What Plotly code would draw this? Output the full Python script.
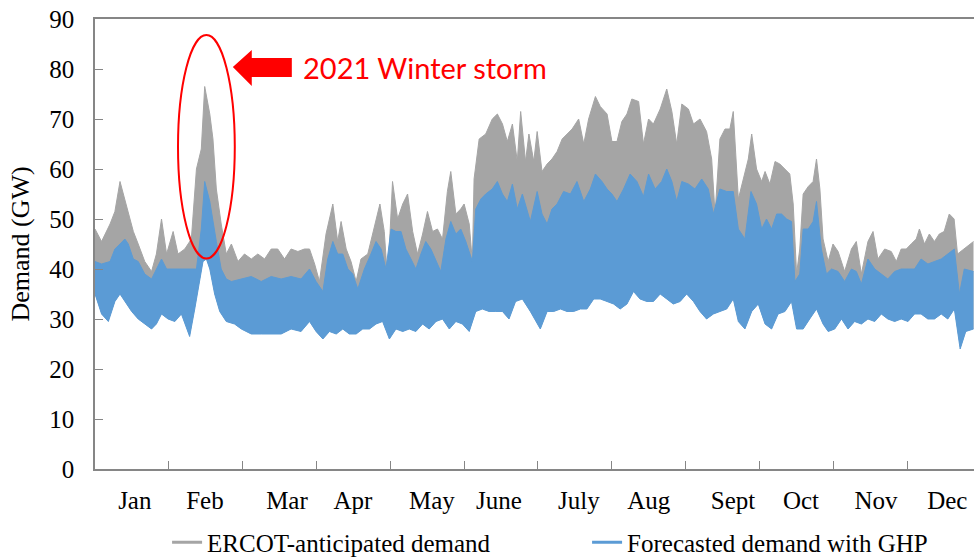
import plotly.graph_objects as go

# ---------------- data ----------------
# x values are day-of-year; y values are GW
ercot_peak_day = [0, 2.7, 6.2, 8.2, 10.3, 12.3, 13.7, 15.8, 17.8, 20.5, 23.3, 25.3, 27.4, 29.5, 32.2, 34.2,
                  37, 39.7, 41.8, 43.8, 45.2, 47.3, 48.6, 50, 52, 54.1, 56.2, 58.9, 61.6, 64.4, 67.1, 69.9,
                  72.6, 75.3, 78.1, 80.8, 83.6, 86.3,
                  88.4, 90.5, 92.5, 95.2, 98, 100, 101.4, 103.5, 105.5, 107.6, 109.6, 112.4, 114.4, 115.8,
                  117.4, 119.2, 120.6, 122.6, 124.7, 126.8, 128.8, 130.9, 132.9, 135, 137, 139.1, 141.1,
                  143.2, 145.2, 146.6, 148.7, 150.7, 152.1, 154.2, 155.5, 156.2, 158.3, 161, 163.7, 165.8,
                  167.9, 169.9, 172, 174, 175.4, 177.4,
                  178.8, 180.8, 182.2, 184.2, 186.3, 188.3, 190.4, 192.5, 194.5, 196.6, 199.3, 201.4, 203.4,
                  206.2, 208.2, 211, 213, 215.1, 217.1, 219.2, 221.2, 224, 226, 228.1, 230.1, 232.9, 235.6,
                  237.7, 239.7, 241.8, 244.5, 246.6, 249.3, 252, 254.1, 255.5, 257.5, 259.6, 261.6, 263,
                  265.1, 267.2, 269.2, 270.6, 272.6, 274.7, 276.1, 278.1, 280.2, 282.2, 284.3, 286.3, 287.7,
                  289.1, 290.4, 291.8, 293.9, 295.9, 297.3, 298.7, 300, 302.1, 304.1, 306.2, 308.9, 311.7,
                  313.7, 315.8, 318.5, 320.6, 322.6, 325.4, 328.1, 330.2, 332.2, 334.3, 336.3, 338.4, 339.7,
                  341.8, 343.8, 345.9, 347.9, 349.9, 352, 354, 355.4, 358.2, 362]
ercot_peak_gw = [48, 45.5, 49, 51.5, 57.5, 54, 51, 47.5, 45, 41.5, 39.5, 43, 50, 43, 47.5, 43,
                 44, 46, 60, 64, 76.5, 71, 66, 56, 49, 43, 45, 41.5, 43, 42, 43, 42,
                 44, 44, 42, 44, 43.5, 44,
                 44, 41, 37.5, 47, 53, 45.5, 49.5, 44, 41.5, 37.5, 42, 43, 47, 50,
                 53, 47.5, 37.5, 57.5, 50, 53, 55, 47.5, 43, 47, 51.5, 47.5, 48,
                 46, 55.5, 59.5, 51, 52, 53, 49, 41.5, 58, 66, 67, 70, 71,
                 69, 65.5, 69, 61.5, 71.5, 61.5,
                 67, 61.5, 67.5, 59.5, 61, 62, 63.5, 66, 67, 68, 70, 65, 70,
                 74.5, 72.5, 71, 65.5, 65.5, 69.5, 71, 74, 73.5, 65, 70, 69, 72, 76,
                 71.5, 65, 73, 72, 69, 70, 67.5, 62, 51, 66, 68, 68, 71.5,
                 54, 58, 62, 67, 60, 57.5, 59.5, 57, 61.5, 61, 60, 59, 53,
                 39, 44, 55, 56.5, 57.5, 62, 56, 46, 41.5, 45, 43.5, 39.5, 44,
                 45.5, 39, 45.5, 47.5, 42, 44, 43.5, 41.5, 44, 44, 45, 46, 48,
                 45, 47, 45.5, 47, 47.5, 51, 50, 43, 44, 45.5]

ghp_peak_day = [0, 2.7, 6.2, 8.2, 10.3, 12.3, 13.7, 15.8, 17.8, 20.5, 23.3, 25.3, 27.4, 29.5, 32.2, 34.2,
                37, 39.7, 41.8, 43.8, 45.2, 47.3, 48.6, 50, 52, 54.1, 56.2, 60.3, 64.4, 68.5, 72.6, 76.7,
                80.8, 84.9,
                88.4, 91.1, 93.9, 95.9, 98, 100, 102.1, 104.2, 106.2, 108.3, 111, 113.7, 115.8, 117.9,
                119.9, 122, 124, 126.1, 128.1, 130.2, 132.2, 134.3, 136.3, 138.4, 140.5, 142.5, 144.6,
                146.6, 148.7, 150.7, 152.8, 155.5, 156.9, 159, 161, 163.7, 165.8, 167.9, 169.9, 172, 174,
                176.1,
                179.4, 182.2, 184.2, 186.3, 188.3, 190.4, 193.1, 195.9, 198.6, 201.4, 204.1, 206.2, 208.9,
                211, 213, 215.1, 217.8, 220.5, 223.3, 226, 228.1, 230.8, 233.5, 235.6, 237.7, 239.7, 241.8,
                244.5, 247.2, 250, 252.7, 254.8, 257.5, 260.3, 263,
                265.1, 267.8, 270.3, 272.6, 274.7, 276.7, 278.8, 280.9, 282.9, 285, 287, 288.4, 290.4,
                291.8, 293.9, 295.9, 297.3, 299.3, 301.4, 303.5, 306.2, 308.9, 311.7, 313.7, 315.8, 318.5,
                321.3, 324, 326.7, 329.5, 332.2, 335, 337.7, 340.4, 343.2, 345.9, 348.7, 351.4, 354.1,
                356.2, 358.2, 362]
ghp_peak_gw = [41.5, 41, 41.5, 44, 45, 46, 45, 42, 41.5, 39, 38, 40, 42, 40, 40, 40,
               40, 40, 40, 48, 57.5, 53.5, 49.5, 45.5, 40, 38, 37.5, 38, 38.5, 37.5, 38.5, 38,
               38.5, 38,
               40, 37.5, 35.5, 42, 45.5, 43, 43, 40, 39, 36, 40, 43, 45.5, 44,
               40, 48, 47.5, 47.5, 44, 42, 40, 43, 45.5, 44, 41.5, 39.5, 46,
               49.5, 47, 48, 45.5, 41.5, 52, 54, 55, 56, 57.5, 55, 53.5, 57, 52,
               55,
               49.5, 55.5, 51, 49, 52, 53, 55.5, 55, 57.5, 53.5, 56, 59, 57.5,
               56, 55, 53.5, 56, 59, 57.5, 54.5, 59, 56, 57.5, 60, 57.5, 53.5, 57.5,
               57, 56, 58, 56, 51, 56, 55.5, 55.5,
               48, 46, 55.5, 53, 48, 50, 48, 51, 51, 50, 49.5, 37.5, 39,
               48, 48, 49.5, 53.5, 44, 39, 40, 39.5, 37.5, 40, 39.5, 37, 42,
               40, 39, 38, 39.5, 40, 40, 40, 42, 41, 41.5, 42, 43, 44,
               35, 40, 39.5]

ghp_low_day = [0, 2.7, 5.5, 8.2, 10.3, 12.3, 15.1, 17.8, 20.5, 23.3, 25.3, 27.4, 30.1, 32.9, 35.6, 39,
               41.1, 43.2, 44.5, 45.9, 47.3, 49.3, 51.4, 54.1, 57.5, 60.3, 64.4, 68.5, 72.6, 76.7, 80.8,
               84.9,
               88.4, 91.1, 93.9, 96.6, 99.4, 102.1, 104.8, 107.6, 110.3, 113.1, 115.8, 118.5, 121.3, 124,
               126.8, 129.5, 132.2, 135, 137.7, 140.5, 143.2, 146, 148.7, 151.4, 154.2, 156.9, 159.6,
               162.4, 165.1, 167.9, 170.6, 173.3, 176.1,
               179.4, 183.5, 186.3, 189, 191.8, 194.5, 197.2, 200, 202.7, 205.5, 208.2, 211, 213.7, 216.4,
               219.2, 221.9, 224.6, 227.4, 230.1, 232.9, 235.6, 238.3, 241.1, 243.8, 246.6, 249.3, 252,
               254.8, 257.5, 260.3, 263,
               265.1, 267.8, 270.6, 273.3, 276.1, 278.8, 281.5, 284.3, 287, 289.1, 291.8, 294.5, 297.3,
               300, 302.1, 304.8, 307.6, 310.3, 313, 315.8, 318.5, 321.3, 324, 326.7, 329.5, 332.2, 335,
               337.7, 340.4, 343.2, 345.9, 348.7, 351.4, 354.1, 356.5, 358.8, 362]
ghp_low_gw = [35, 31, 29.5, 33.5, 35, 33.5, 31.5, 30, 29, 28, 29, 31, 30, 29.5, 31, 26.5,
              32, 37.5, 41.5, 42, 40, 35, 31.5, 29.5, 29, 28, 27, 27, 27, 27, 28,
              27.5,
              29.5, 27.5, 26, 27.5, 27, 28, 27, 27, 28, 28, 29, 29.5, 26, 28,
              27.5, 28, 27.5, 29, 28, 29.5, 30, 28, 29.5, 29, 27.5, 31.5, 32,
              31.5, 31.5, 31.5, 30, 33.5, 34,
              31.5, 28, 31.5, 31.5, 32, 31.5, 31.5, 32, 32, 34, 34, 33.5, 33, 32,
              33, 35.5, 34, 33.5, 33.5, 35, 34, 33, 33.5, 35, 33.5, 31.5, 30,
              31, 31.5, 32, 34,
              29.5, 28, 31.5, 33, 29, 28, 31, 31.5, 33.5, 28, 28, 30, 32,
              29, 27.5, 28, 30, 28, 29.5, 29, 30, 29.5, 31, 30, 29.5, 30, 29.5,
              31, 31, 30, 30, 31, 30, 32, 24, 27.5, 28]

month_names = ["Jan", "Feb", "Mar", "Apr", "May", "June", "July", "Aug", "Sept", "Oct", "Nov", "Dec"]
month_label_day = [16.4, 45.3, 79.1, 106.3, 138.8, 166.4, 199.4, 228.2, 262.9, 290.9, 321.8, 351.2]
month_boundary_day = [0, 30.4, 60.8, 91.3, 121.7, 152.1, 182.5, 212.9, 243.3, 273.8, 304.2, 334.6, 365]
y_ticks = [0, 10, 20, 30, 40, 50, 60, 70, 80, 90]

GREY = "#A5A5A5"
BLUE = "#5B9BD5"
AXIS = "#868686"
SERIF = "Liberation Serif, Times New Roman, serif"
SHAPE = "linear"

fig = go.Figure()

# grey (ERCOT) band
fig.add_trace(go.Scatter(x=ghp_low_day, y=ghp_low_gw, mode="lines", line=dict(width=0, color=GREY, shape=SHAPE),
                         showlegend=False, hoverinfo="skip"))
fig.add_trace(go.Scatter(x=ercot_peak_day, y=ercot_peak_gw, mode="lines", fill="tonexty", fillcolor=GREY,
                         line=dict(width=1, color=GREY, shape=SHAPE), showlegend=False))
# blue (GHP) band
fig.add_trace(go.Scatter(x=ghp_low_day, y=ghp_low_gw, mode="lines", line=dict(width=1, color=BLUE, shape=SHAPE),
                         showlegend=False, hoverinfo="skip"))
fig.add_trace(go.Scatter(x=ghp_peak_day, y=ghp_peak_gw, mode="lines", fill="tonexty", fillcolor=BLUE,
                         line=dict(width=1, color=BLUE, shape=SHAPE), showlegend=False))

# legend entries
fig.add_trace(go.Scatter(x=[None], y=[None], mode="lines", line=dict(color=GREY, width=3),
                         name="ERCOT-anticipated demand"))
fig.add_trace(go.Scatter(x=[None], y=[None], mode="lines", line=dict(color=BLUE, width=3),
                         name="Forecasted demand with GHP"))

x_range = [0, 362.2]

# storm highlight
fig.add_shape(type="circle", xref="x", yref="y", x0=34.2, x1=57.6, y0=42.1, y1=86.8,
              line=dict(color="#FF0000", width=2))
fig.add_shape(type="path", xref="x", yref="y",
              path="M 56.8 80.4 L 64.6 83.8 L 64.6 82.2 L 81.1 82.2 L 81.1 78.4 L 64.6 78.4 L 64.6 76.6 Z",
              fillcolor="#FF0000", line=dict(width=0))
fig.add_annotation(x=84.8, y=80.4, xref="x", yref="y", text="2021 Winter storm", showarrow=False,
                   xanchor="left", yanchor="middle", font=dict(family="Lato, sans-serif", size=29, color="#FF0000"))

fig.update_layout(
    width=974, height=559,
    margin=dict(l=95, r=0, t=19, b=90, autoexpand=False),
    paper_bgcolor="white", plot_bgcolor="white",
    font=dict(family=SERIF, size=25, color="black"),
    xaxis=dict(range=x_range, tickmode="array", tickvals=month_boundary_day, showticklabels=False,
               ticks="inside", ticklen=8, tickcolor=AXIS, tickwidth=1, showline=True, linecolor=AXIS,
               linewidth=1.5, mirror=True, showgrid=False, zeroline=False),
    xaxis2=dict(range=x_range, overlaying="x", side="bottom", tickmode="array", tickvals=month_label_day,
                ticktext=month_names, ticks="", showline=False, showgrid=False, zeroline=False,
                tickfont=dict(family=SERIF, size=25, color="black"), ticklabelstandoff=14),
    yaxis=dict(range=[0, 90], tickmode="array", tickvals=y_ticks, ticks="inside", ticklen=8, tickcolor=AXIS,
               showline=True, linecolor=AXIS, linewidth=1.5, showgrid=False, zeroline=False,
               tickfont=dict(family=SERIF, size=25, color="black"), ticklabelstandoff=14,
               title=dict(text="Demand (GW)", font=dict(family=SERIF, size=26, color="black"), standoff=12)),
    legend=dict(orientation="h", x=0.082, y=-0.112, xanchor="left", yanchor="top", traceorder="normal",
                font=dict(family=SERIF, size=25, color="black"), entrywidth=375, bgcolor="rgba(0,0,0,0)"),
    showlegend=True,
)

# a dummy trace to activate xaxis2 (month labels)
fig.add_trace(go.Scatter(x=[None], y=[None], xaxis="x2", showlegend=False, hoverinfo="skip"))

fig.write_html("out.html", config={"displayModeBar": False},
               post_script="document.body.style.margin='0';")
